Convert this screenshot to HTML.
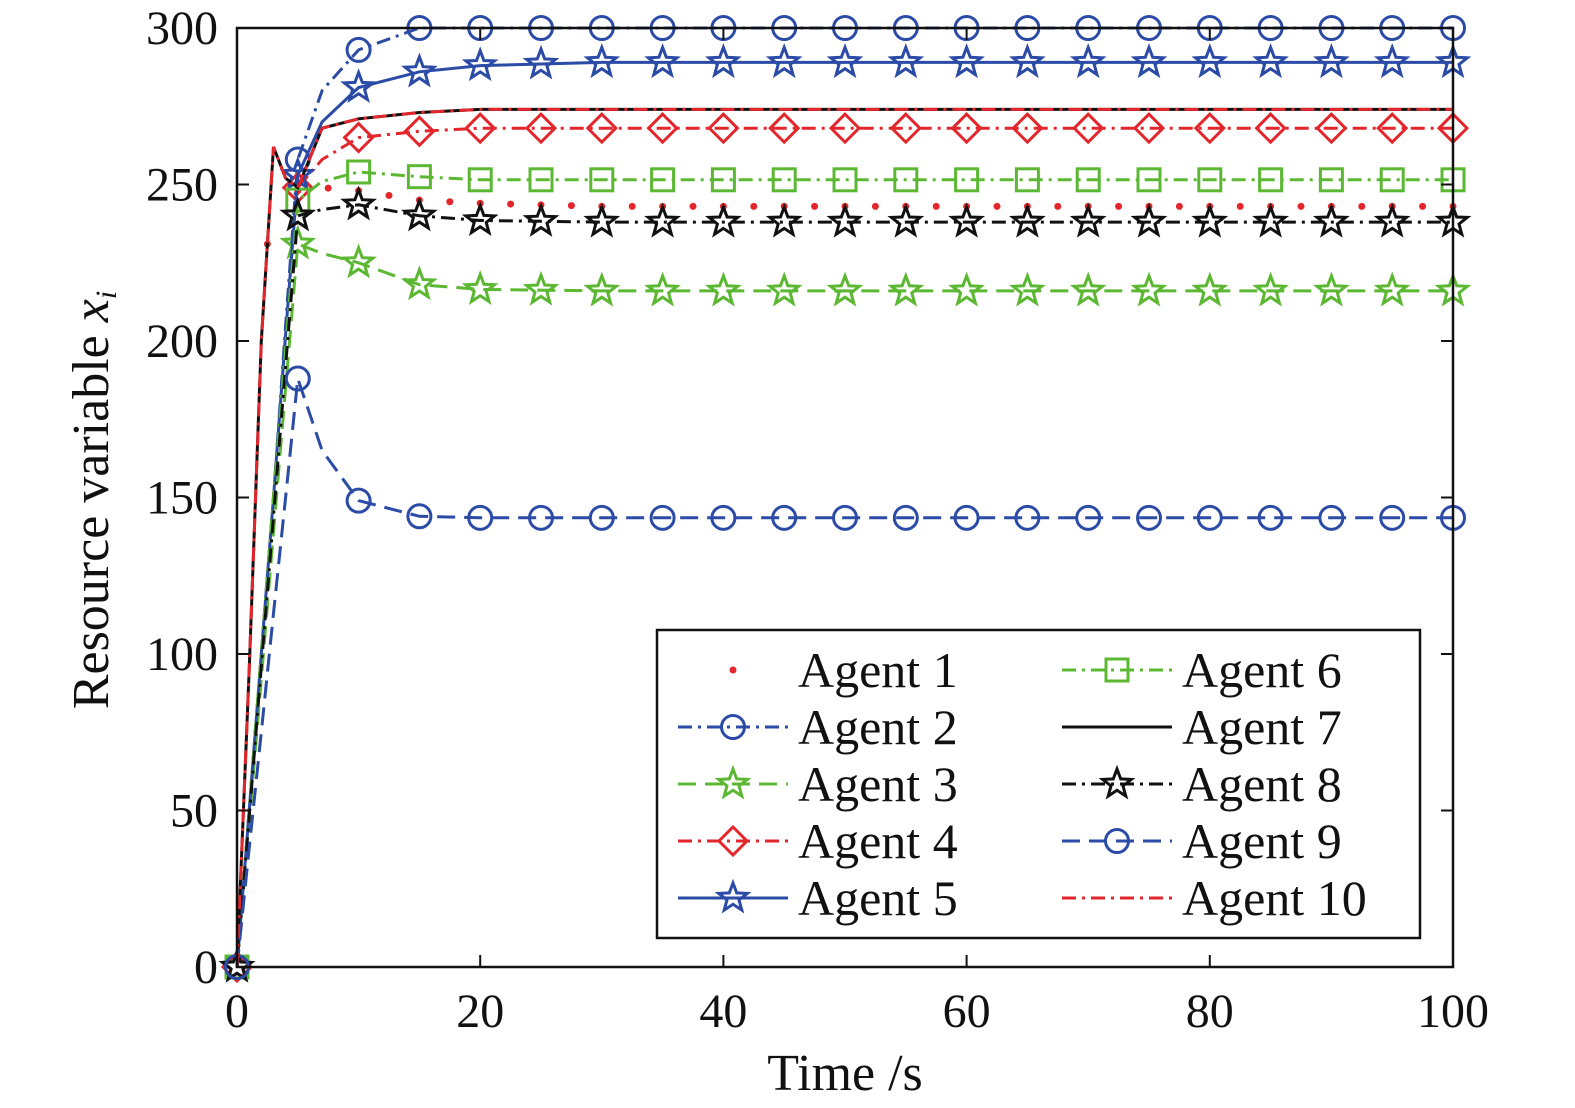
<!DOCTYPE html>
<html><head><meta charset="utf-8"><style>
html,body{margin:0;padding:0;background:#fff;overflow:hidden;width:1575px;height:1108px}
svg{display:block}
svg text{font-family:"Liberation Serif",serif;fill:#111}
</style></head><body>
<svg id="chart" width="1575" height="1108" viewBox="0 0 1575 1108" xmlns="http://www.w3.org/2000/svg">
<rect width="1575" height="1108" fill="#fff"/>
<g id="series"></g>
<g id="axes"></g>
<g id="legend"></g>
</svg>
<script>
const times=[0,1,2,3,4,5,7,10,15,20,30,100];
const agent1=[0,95,200,262,252,248,249,248,245,244,243,243];
const agent2=[0,50,100,150,205,258,280,293,300,300,300,300];
const agent3=[0,46,92,139,185,231,228,225,218,216.5,216,216];
const agent4=[0,50,100,150,200,249,258,265,267,268,268,268];
const agent5=[0,50,100,150,202,253,270,281,286,288,289,289];
const agent6=[0,50,100,150,198,245,251,254,252.5,251.5,251.5,251.5];
const agent7=[0,95,200,262,252,249,268,271,273,274,274,274];
const agent8=[0,48,96,144,192,240,242,243.5,240,238.5,238,238];
const agent9=[0,38,75,113,150,188,165,149,144,143.5,143.5,143.5];
const agent10=[0,95,200,262,252,249,268,271,273,274,274,274];
const xTicks=[0,20,40,60,80,100];
const yTicks=[0,50,100,150,200,250,300];
const agentNames=["Agent 1","Agent 2","Agent 3","Agent 4","Agent 5","Agent 6","Agent 7","Agent 8","Agent 9","Agent 10"];

const X0=237,X1=1453,Y0=967,Y1=28;
const xs=t=>X0+(t/100)*(X1-X0);
const ys=v=>Y0-(v/300)*(Y0-Y1);
const NS="http://www.w3.org/2000/svg";
const BLUE="#2b4ba6",RED="#e2262b",GREEN="#5cb833",BLACK="#111";
const DD="14 6 3 6",DA="18 9";
const SW=3;
const styles=[
 {d:agent1,c:RED,dash:null,m:"dot",line:false},
 {d:agent2,c:BLUE,dash:DD,m:"circle"},
 {d:agent3,c:GREEN,dash:DA,m:"star"},
 {d:agent4,c:RED,dash:DD,m:"diamond"},
 {d:agent5,c:BLUE,dash:null,m:"star"},
 {d:agent6,c:GREEN,dash:DD,m:"square"},
 {d:agent7,c:BLACK,dash:null,m:null},
 {d:agent8,c:BLACK,dash:DD,m:"star"},
 {d:agent9,c:BLUE,dash:DA,m:"circle"},
 {d:agent10,c:RED,dash:DD,m:null}
];
function interp(d,t){for(let i=0;i<times.length-1;i++){if(t>=times[i]&&t<=times[i+1]){const f=(t-times[i])/(times[i+1]-times[i]);return d[i]+f*(d[i+1]-d[i]);}}return d[d.length-1];}
function mk(tag,attrs,parent){const e=document.createElementNS(NS,tag);for(const k in attrs)e.setAttribute(k,attrs[k]);parent.appendChild(e);return e;}
function starPts(cx,cy,R){let p=[];for(let i=0;i<10;i++){const r=i%2?R*0.42:R;const a=-Math.PI/2+i*Math.PI/5;p.push((cx+r*Math.cos(a)).toFixed(1)+","+(cy+r*Math.sin(a)).toFixed(1));}return p.join(" ");}
function marker(type,cx,cy,c,g){
 let e;
 if(type==="circle")e=mk("circle",{cx,cy,r:11.5,fill:"none",stroke:c,"stroke-width":SW},g);
 else if(type==="star")e=mk("polygon",{points:starPts(cx,cy,15),fill:"none",stroke:c,"stroke-width":SW},g);
 else if(type==="diamond")e=mk("polygon",{points:`${cx},${cy-14} ${cx+14},${cy} ${cx},${cy+14} ${cx-14},${cy}`,fill:"none",stroke:c,"stroke-width":SW},g);
 else if(type==="square")e=mk("rect",{x:cx-11,y:cy-11,width:22,height:22,fill:"none",stroke:c,"stroke-width":SW},g);
 else if(type==="dot")e=mk("circle",{cx,cy,r:3.5,fill:c},g);
 return e;
}
const sg=document.getElementById("series");
styles.forEach((s,i)=>{
 const g=mk("g",{},sg);
 
 
 if(s.line!==false){
  const pts=s.d.map((v,j)=>xs(times[j]).toFixed(1)+","+ys(v).toFixed(1)).join(" ");
  const a={points:pts,fill:"none",stroke:s.c,"stroke-width":SW};
  if(s.dash)a["stroke-dasharray"]=s.dash;
  const pl=mk("polyline",a,g);
  
  
 }
 if(s.m==="dot"){
  for(let t=2.5;t<=100.01;t+=2.5){const m=marker("dot",xs(t),ys(interp(s.d,t)),s.c,g);
   
   }
 } else if(s.m){
  for(let t=0;t<=100;t+=5){const m=marker(s.m,xs(t),ys(interp(s.d,t)),s.c,g);
   
   }
 }
});
const ag=document.getElementById("axes");
const fr=mk("rect",{x:X0,y:Y1,width:X1-X0,height:Y0-Y1,fill:"none",stroke:"#111","stroke-width":2.5},ag);


xTicks.forEach(t=>{
 const x=xs(t);
 mk("line",{x1:x,y1:Y0,x2:x,y2:Y0-12,stroke:"#111","stroke-width":2},ag);
 mk("line",{x1:x,y1:Y1,x2:x,y2:Y1+12,stroke:"#111","stroke-width":2},ag);
 const tx=mk("text",{x:x,y:1027,"font-size":48,"text-anchor":"middle"},ag);tx.textContent=t;
 
 
});
yTicks.forEach(v=>{
 const y=ys(v);
 mk("line",{x1:X0,y1:y,x2:X0+12,y2:y,stroke:"#111","stroke-width":2},ag);
 mk("line",{x1:X1,y1:y,x2:X1-12,y2:y,stroke:"#111","stroke-width":2},ag);
 const tx=mk("text",{x:218,y:y+16,"font-size":48,"text-anchor":"end"},ag);tx.textContent=v;
 
 
});
const xl=mk("text",{x:845,y:1090,"font-size":52,"text-anchor":"middle"},ag);xl.textContent="Time /s";


const yl=mk("text",{x:0,y:0,"font-size":52,"text-anchor":"middle",transform:"translate(108,500) rotate(-90)"},ag);
yl.innerHTML='Resource variable <tspan font-style="italic">x</tspan><tspan font-style="italic" font-size="30" dy="8">i</tspan>';


const lg=document.getElementById("legend");


mk("rect",{x:657,y:630,width:763,height:308,fill:"#fff",stroke:"#111","stroke-width":2.5},lg);
styles.forEach((s,i)=>{
 const col=i<5?0:1,row=i%5;
 const lx=col?1062:678,ty=670+row*57;
 const e=mk("g",{},lg);
 
 
 if(s.line!==false){const a={x1:lx,y1:ty,x2:lx+110,y2:ty,stroke:s.c,"stroke-width":SW};if(s.dash)a["stroke-dasharray"]=s.dash;mk("line",a,e);}
 if(s.m)marker(s.m,lx+55,ty,s.c,e);
 const tx=mk("text",{x:lx+120,y:ty+17,"font-size":50},e);tx.textContent=agentNames[i];
});
</script>
</body></html>
